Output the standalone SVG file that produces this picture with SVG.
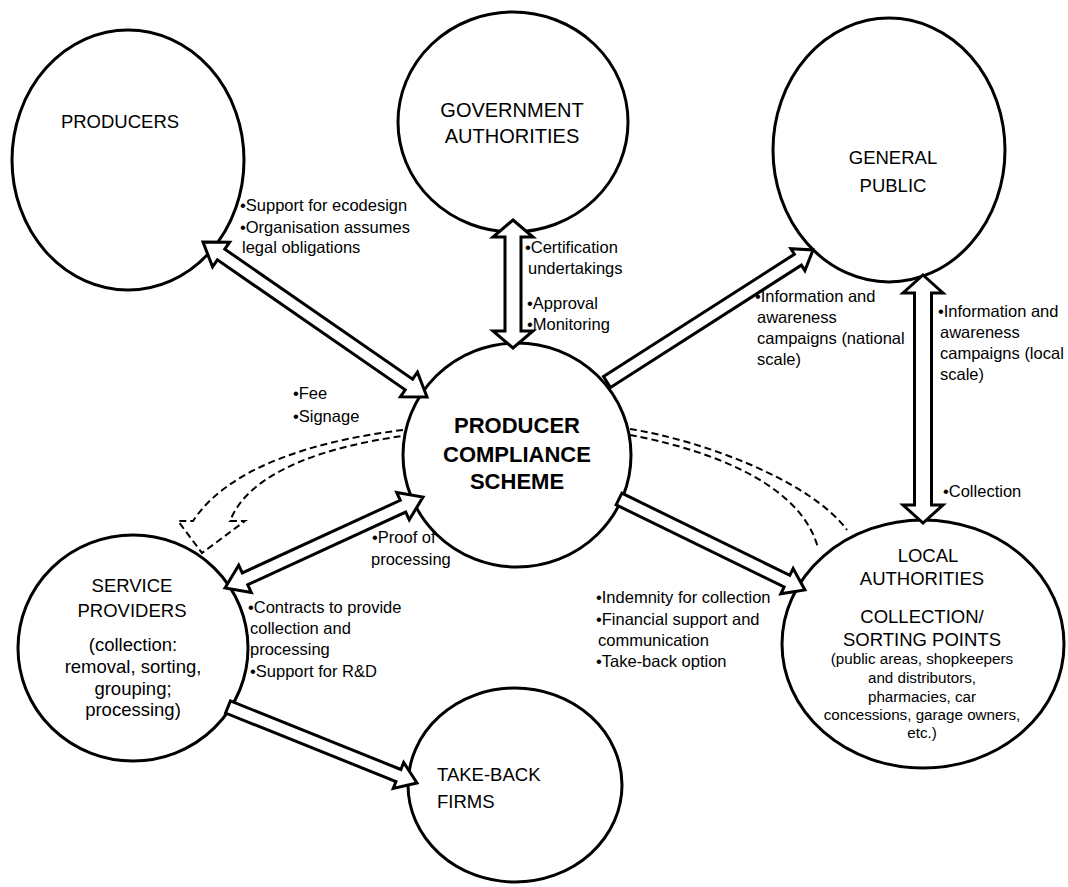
<svg xmlns="http://www.w3.org/2000/svg" width="1068" height="887" viewBox="0 0 1068 887">
<style>
.node{fill:#fff;stroke:#000;stroke-width:3}
.t{font-family:"Liberation Sans",Arial,sans-serif;font-size:18.5px;fill:#000;text-anchor:middle}
.tb{font-family:"Liberation Sans",Arial,sans-serif;font-size:22px;font-weight:bold;fill:#000;text-anchor:middle}
.s{font-family:"Liberation Sans",Arial,sans-serif;font-size:15.2px;fill:#000;text-anchor:middle}
.lab{font-family:"Liberation Sans",Arial,sans-serif;font-size:16.5px;fill:#000}
.arr{fill:#fff;stroke:#000;stroke-width:3;stroke-linejoin:miter}
.dash{fill:none;stroke:#000;stroke-width:2;stroke-dasharray:7,4}
</style>
<rect width="1068" height="887" fill="#fff"/>
<g id="producers">
<ellipse class="node" cx="128" cy="160" rx="116" ry="130"/>
<text class="t" x="120" y="128">PRODUCERS</text>
</g>
<g id="government">
<ellipse class="node" cx="513" cy="122" rx="115" ry="110"/>
<text class="t" x="512" y="117" style="font-size:20px">GOVERNMENT</text>
<text class="t" x="512" y="143" style="font-size:20px">AUTHORITIES</text>
</g>
<g id="public">
<ellipse class="node" cx="889" cy="150" rx="116" ry="132"/>
<text class="t" x="893" y="164">GENERAL</text>
<text class="t" x="893" y="192">PUBLIC</text>
</g>
<g id="pcs">
<ellipse class="node" cx="517" cy="455" rx="114" ry="112"/>
<text class="tb" x="517" y="433">PRODUCER</text>
<text class="tb" x="517" y="462">COMPLIANCE</text>
<text class="tb" x="517" y="489">SCHEME</text>
</g>
<g id="service">
<ellipse class="node" cx="133" cy="648" rx="115" ry="113"/>
<text class="t" x="132" y="592">SERVICE</text>
<text class="t" x="132" y="617">PROVIDERS</text>
<text class="t" x="133" y="651">(collection:</text>
<text class="t" x="133" y="673">removal, sorting,</text>
<text class="t" x="133" y="695">grouping;</text>
<text class="t" x="133" y="716">processing)</text>
</g>
<g id="local">
<ellipse class="node" cx="923" cy="644" rx="141" ry="124"/>
<text class="t" x="928" y="562">LOCAL</text>
<text class="t" x="922" y="585">AUTHORITIES</text>
<text class="t" x="922" y="623">COLLECTION/</text>
<text class="t" x="922" y="646">SORTING POINTS</text>
<text class="s" x="922" y="664">(public areas, shopkeepers</text>
<text class="s" x="922" y="683">and distributors,</text>
<text class="s" x="922" y="702">pharmacies, car</text>
<text class="s" x="922" y="720">concessions, garage owners,</text>
<text class="s" x="922" y="738">etc.)</text>
</g>
<g id="takeback">
<ellipse class="node" cx="515" cy="785" rx="107" ry="97"/>
<text class="t" x="437" y="781" style="text-anchor:start">TAKE-BACK</text>
<text class="t" x="437" y="808" style="text-anchor:start">FIRMS</text>
</g>
<g id="connectors">
<polygon class="arr" transform="translate(203,242) rotate(34.68)" points="0,0 22,-15 22,-6.5 250.4,-6.5 250.4,-15 272.4,0 250.4,15 250.4,6.5 22,6.5 22,15"/>
<polygon class="arr" transform="translate(513,220) rotate(90)" points="0,0 17,-20 17,-8 111,-8 111,-20 128,0 111,20 111,8 17,8 17,20"/>
<polygon class="arr" transform="translate(607,382) rotate(-32.65)" points="0,-6.5 226.7,-6.5 226.7,-13 244.7,0 226.7,13 226.7,6.5 0,6.5"/>
<polygon class="arr" transform="translate(923,275) rotate(90)" points="0,0 18,-20 18,-8.5 230,-8.5 230,-20 248,0 230,20 230,8.5 18,8.5 18,20"/>
<polygon class="arr" transform="translate(619,499) rotate(26.07)" points="0,-6.5 187,-6.5 187,-14 207,0 187,14 187,6.5 0,6.5"/>
<polygon class="arr" transform="translate(225,588) rotate(-24.68)" points="0,0 22,-15 22,-6.5 195.9,-6.5 195.9,-15 217.9,0 195.9,15 195.9,6.5 22,6.5 22,15"/>
<polygon class="arr" transform="translate(228,707) rotate(21.9)" points="0,-6.5 183.7,-6.5 183.7,-14 203.7,0 183.7,14 183.7,6.5 0,6.5"/>
<path class="dash" d="M403,430 C320,440 230,465 193,521 L178,521 L202,553 L245,521 L230,521 C250,470 330,446 403,436"/>
<path class="dash" d="M630,429 C700,440 810,480 847,530"/>
<path class="dash" d="M630,435 C700,448 800,480 818,548"/>
</g>
<g id="labels">
<text class="lab" x="240" y="211">•Support for ecodesign</text>
<text class="lab" x="240" y="233">•Organisation assumes</text>
<text class="lab" x="242" y="253">legal obligations</text>
<text class="lab" x="525" y="253">•Certification</text>
<text class="lab" x="528" y="274">undertakings</text>
<text class="lab" x="527" y="309">•Approval</text>
<text class="lab" x="527" y="330">•Monitoring</text>
<text class="lab" x="755" y="302">•Information and</text>
<text class="lab" x="757" y="323">awareness</text>
<text class="lab" x="757" y="344">campaigns (national</text>
<text class="lab" x="757" y="365">scale)</text>
<text class="lab" x="938" y="317">•Information and</text>
<text class="lab" x="940" y="338">awareness</text>
<text class="lab" x="940" y="359">campaigns (local</text>
<text class="lab" x="940" y="380">scale)</text>
<text class="lab" x="943" y="497">•Collection</text>
<text class="lab" x="293" y="399">•Fee</text>
<text class="lab" x="293" y="422">•Signage</text>
<text class="lab" x="372" y="543">•Proof of</text>
<text class="lab" x="371" y="565">processing</text>
<text class="lab" x="248" y="613">•Contracts to provide</text>
<text class="lab" x="250" y="634">collection and</text>
<text class="lab" x="250" y="655">processing</text>
<text class="lab" x="250" y="677">•Support for R&amp;D</text>
<text class="lab" x="596" y="603">•Indemnity for collection</text>
<text class="lab" x="596" y="625">•Financial support and</text>
<text class="lab" x="598" y="646">communication</text>
<text class="lab" x="596" y="667">•Take-back option</text>
</g>
</svg>
